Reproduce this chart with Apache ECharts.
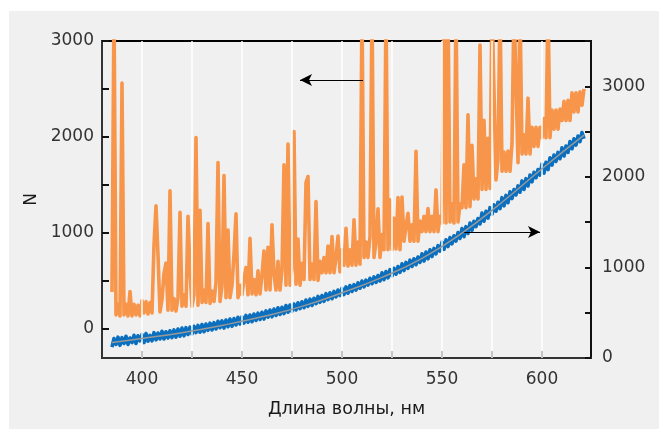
<!DOCTYPE html>
<html>
<head>
<meta charset="utf-8">
<script src="https://cdn.jsdelivr.net/npm/echarts@6/dist/echarts.min.js"></script>
<style>
  html, body { margin: 0; padding: 0; background: #fff; }
  #chart { width: 659px; height: 429px; }
</style>
</head>
<body>
<div id="chart"></div>
<script>
// wavelength grid: 1 nm steps starting at 385 nm
var wlStart = 385;

// spectrum (left axis, N), one value per nm, 385..621
var spectrum = [
  380, 3400, 140, 250, 130, 2560, 140, 250, 130, 385,
  130, 250, 140, 240, 130, 290, 160, 280, 150, 270,
  160, 870, 1280, 766, 170, 300, 575, 680, 190, 1435,
  190, 310, 180, 320, 1212, 230, 350, 230, 1170, 600,
  230, 350, 1993, 240, 1233, 270, 400, 270, 1094, 260,
  390, 280, 480, 1731, 280, 440, 1595, 320, 1027, 320,
  450, 773, 1195, 320, 450, 350, 520, 634, 350, 940,
  360, 510, 350, 600, 360, 560, 808, 400, 846, 400,
  1080, 560, 400, 700, 400, 610, 1707, 450, 1923, 450,
  620, 2055, 460, 933, 450, 680, 510, 1522, 1585, 510,
  670, 510, 1324, 500, 700, 580, 740, 580, 860, 580,
  958, 580, 740, 963, 590, 820, 660, 1045, 650, 820,
  660, 1132, 660, 900, 670, 3400, 740, 900, 740, 960,
  3400, 740, 900, 1247, 740, 980, 820, 3400, 820, 1341,
  820, 1150, 830, 1366, 820, 1370, 910, 1070, 1200, 910,
  1080, 910, 1847, 910, 1120, 1010, 1170, 1010, 1250, 1010,
  1170, 1010, 1445, 1010, 1170, 1100, 3400, 1100, 3400, 1110,
  1300, 1100, 3400, 1110, 1300, 1260, 1707, 1260, 2229, 1270,
  1912, 1350, 1560, 1350, 2957, 1450, 2173, 1450, 1985, 1460,
  3400, 3400, 1550, 1760, 3400, 1640, 1840, 1640, 1850, 1640,
  1930, 3400, 3400, 1730, 3400, 1820, 2020, 1820, 2403, 1820,
  2100, 1900, 2100, 1900, 2100, 1990, 2190, 1990, 3400, 1990,
  2280, 2080, 2280, 2080, 2290, 2170, 2370, 2170, 2380, 2170,
  2460, 2260, 2460, 2260, 2470, 2330, 2500
];

// reference signal (right axis), one value per nm, 385..621
var reference = [
  120, 215, 150, 230, 140, 225, 160, 240, 150, 220,
  170, 250, 160, 245, 190, 260, 170, 270, 185, 250,
  190, 280, 200, 275, 210, 295, 210, 290, 220, 300,
  225, 310, 230, 320, 240, 330, 245, 335, 260, 340,
  265, 350, 280, 360, 285, 370, 290, 375, 305, 385,
  310, 390, 320, 405, 335, 410, 330, 420, 345, 430,
  350, 435, 365, 450, 375, 455, 385, 470, 395, 475,
  400, 485, 415, 495, 425, 505, 430, 520, 450, 530,
  455, 540, 470, 555, 480, 560, 490, 580, 505, 585,
  515, 595, 530, 610, 545, 620, 555, 640, 570, 650,
  580, 660, 600, 680, 615, 690, 625, 710, 645, 720,
  655, 735, 675, 750, 690, 770, 700, 785, 715, 800,
  735, 810, 750, 830, 770, 850, 785, 860, 805, 880,
  820, 895, 835, 910, 850, 940, 865, 955, 885, 975,
  905, 990, 925, 1010, 945, 1040, 965, 1055, 990, 1080,
  1010, 1095, 1030, 1115, 1055, 1150, 1070, 1170, 1095, 1195,
  1120, 1210, 1150, 1240, 1180, 1280, 1200, 1305, 1230, 1330,
  1260, 1350, 1290, 1385, 1320, 1430, 1340, 1450, 1375, 1490,
  1410, 1510, 1450, 1540, 1480, 1600, 1510, 1620, 1545, 1660,
  1585, 1690, 1620, 1720, 1650, 1770, 1680, 1795, 1715, 1835,
  1760, 1860, 1800, 1900, 1830, 1955, 1860, 1980, 1900, 2020,
  1945, 2050, 1990, 2080, 2020, 2140, 2040, 2160, 2080, 2210,
  2130, 2240, 2170, 2270, 2200, 2320, 2230, 2340, 2270, 2390,
  2310, 2420, 2350, 2450, 2390, 2490, 2420
];

// smooth fit through the reference signal
var fitWl = [385, 400, 420, 440, 460, 480, 500, 520, 540, 560, 580, 600, 621];
var fitVal = [170, 215, 280, 360, 455, 570, 720, 890, 1100, 1380, 1720, 2090, 2460];

var xLabels = [400, 450, 500, 550, 600];
var xTicks = [400, 425, 450, 475, 500, 525, 550, 575, 600];
var yLeftLabels = [0, 1000, 2000, 3000];
var yLeftTicks = [0, 500, 1000, 1500, 2000, 2500, 3000];
var yRightLabels = [0, 1000, 2000, 3000];
var yRightTicks = [0, 500, 1000, 1500, 2000, 2500, 3000, 3500];

function pairs(start, vals) {
  var out = [];
  for (var i = 0; i < vals.length; i++) out.push([start + i, vals[i]]);
  return out;
}
function zip(xs, ys) {
  var out = [];
  for (var i = 0; i < xs.length; i++) out.push([xs[i], ys[i]]);
  return out;
}
function plain(v) { return String(v); }

var fontFam = 'DejaVu Sans';
var myChart = echarts.init(document.getElementById('chart'), null, {renderer: 'canvas'});

var option = {
  animation: false,
  backgroundColor: '#fff',
  graphic: [{
    type: 'rect', left: 9, top: 11, z: -10,
    shape: {width: 650, height: 418},
    style: {fill: '#f0f0f0'}
  }],
  grid: {
    left: 102, top: 41, right: 68, bottom: 71,
    show: true, borderColor: '#000', borderWidth: 2, backgroundColor: 'transparent'
  },
  xAxis: {
    type: 'value', min: 380, max: 624.5,
    name: 'Длина волны, нм', nameLocation: 'middle', nameGap: 42,
    nameTextStyle: {fontSize: 17.5, color: '#1a1a1a', fontFamily: fontFam},
    axisLine: {onZero: false, lineStyle: {color: '#333', width: 2}},
    axisTick: {inside: true, length: 7, customValues: xTicks, lineStyle: {color: '#111', width: 2}},
    axisLabel: {customValues: xLabels, formatter: plain, margin: 13, fontSize: 17, color: '#333', fontFamily: fontFam},
    splitLine: {show: false}
  },
  yAxis: [{
    type: 'value', min: -310, max: 3000, position: 'left',
    name: 'N', nameLocation: 'middle', nameGap: 45, nameRotate: 90,
    nameTextStyle: {fontSize: 17, color: '#1a1a1a', fontFamily: fontFam},
    axisLine: {show: true, onZero: false, lineStyle: {color: '#333', width: 2}},
    axisTick: {show: true, inside: true, length: 7, customValues: yLeftTicks, lineStyle: {color: '#111', width: 2}},
    axisLabel: {customValues: yLeftLabels, formatter: plain, margin: 8, fontSize: 17, color: '#333', fontFamily: fontFam},
    splitLine: {show: false}
  }, {
    type: 'value', min: 0, max: 3500, position: 'right',
    axisLine: {show: true, onZero: false, lineStyle: {color: '#111', width: 2}},
    axisTick: {show: true, inside: true, length: 6, customValues: yRightTicks, lineStyle: {color: '#111', width: 2}},
    axisLabel: {customValues: yRightLabels, formatter: plain, margin: 11, fontSize: 17, color: '#333', fontFamily: fontFam},
    splitLine: {show: false}
  }],
  series: [{
    // vertical white grid lines
    type: 'line', data: [], z: 1, silent: true,
    markLine: {
      silent: true, symbol: 'none', label: {show: false},
      lineStyle: {color: '#fff', width: 1.5, type: 'solid'},
      data: xTicks.map(function (v) { return {xAxis: v}; })
    }
  }, {
    name: 'spectrum', type: 'line', yAxisIndex: 0, z: 3,
    data: pairs(wlStart, spectrum),
    showSymbol: false, lineStyle: {color: '#f7954a', width: 3.6, join: 'round'}, itemStyle: {color: '#f7954a'},
    markLine: {
      silent: true, symbol: ['none', 'arrow'], symbolSize: [9, 12], label: {show: false},
      lineStyle: {color: '#000', width: 1.2, type: 'solid'},
      data: [[{coord: [510.5, 2592]}, {coord: [479, 2592]}]]
    }
  }, {
    name: 'reference', type: 'line', yAxisIndex: 1, z: 4,
    data: pairs(wlStart, reference),
    showSymbol: false, lineStyle: {color: '#0b6fbf', width: 3.6, join: 'round'}, itemStyle: {color: '#0b6fbf'},
    markLine: {
      silent: true, symbol: ['none', 'arrow'], symbolSize: [9, 12], label: {show: false},
      lineStyle: {color: '#000', width: 1.2, type: 'solid'},
      data: [[{coord: [560.5, 1392]}, {coord: [599, 1392]}]]
    }
  }, {
    name: 'fit', type: 'line', yAxisIndex: 1, z: 5, smooth: true,
    data: zip(fitWl, fitVal),
    showSymbol: false, lineStyle: {color: '#999', width: 1.5}
  }]
};

myChart.setOption(option);
</script>
</body>
</html>
